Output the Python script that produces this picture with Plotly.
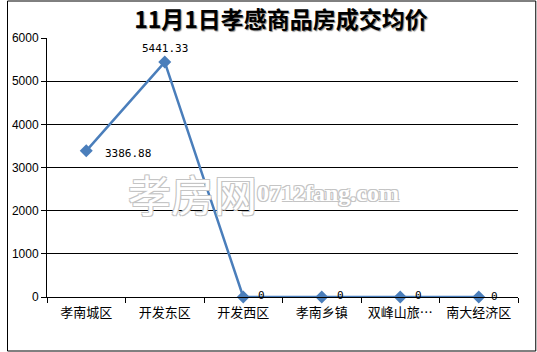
import plotly.graph_objects as go

categories = ["孝南城区", "开发东区", "开发西区", "孝南乡镇", "双峰山旅…", "南大经济区"]
prices = [3386.88, 5441.33, 0, 0, 0, 0]
price_labels = ["3386.88", "5441.33", "0", "0", "0", "0"]
y_ticks = [0, 1000, 2000, 3000, 4000, 5000, 6000]

LINE = "#4A7EBB"
W, H = 537, 352
L, R, T, B = 41, 19, 38, 55
pw, ph = W - L - R, H - T - B

fig = go.Figure()
fig.add_trace(go.Scatter(
    x=categories, y=prices, mode="lines+markers",
    line=dict(color=LINE, width=2.5),
    marker=dict(symbol="diamond", size=10, color=LINE),
    hoverinfo="skip", showlegend=False, cliponaxis=False,
))

# data labels
label_font = dict(family="DejaVu Sans Mono", size=11, color="#000")
shifts = [(18, -3), (0, 14), (14, 2), (14, 2), (14, 2), (11, 1)]
for c, v, t, (dx, dy) in zip(categories, prices, price_labels, shifts):
    fig.add_annotation(x=c, y=v, text=t, showarrow=False, font=label_font,
                       xanchor="left" if dx > 5 else "center", yanchor="middle",
                       xshift=dx if dx > 5 else 0, yshift=dy, borderpad=0)

# watermark
outline = "1px 1px 0 #c4c4c4, -1px -1px 0 #c4c4c4, 1px -1px 0 #c4c4c4, -1px 1px 0 #c4c4c4"
fig.add_annotation(xref="paper", yref="paper",
                   x=(121 - L) / pw, y=(297 - 193) / ph, xanchor="left", yanchor="middle",
                   text="孝房网", showarrow=False,
                   font=dict(family="Noto Sans CJK SC", size=43, color="white", shadow=outline))
fig.add_annotation(xref="paper", yref="paper",
                   x=(252 - L) / pw, y=(297 - 193) / ph, xanchor="left", yanchor="middle",
                   text="0712fang.com", showarrow=False,
                   font=dict(family="Liberation Serif", size=24, color="white", weight="bold",
                             shadow=outline))

# outer border
fig.add_shape(type="rect", xref="paper", yref="paper",
              x0=(1 - L) / pw, x1=(536 - L) / pw,
              y0=(297 - 351) / ph, y1=(297 - 1) / ph,
              line=dict(color="black", width=1), fillcolor="rgba(0,0,0,0)", layer="below")

fig.update_layout(
    width=W, height=H,
    margin=dict(l=L, r=R, t=T, b=B),
    paper_bgcolor="white", plot_bgcolor="white",
    title=dict(text="<b>11月1日孝感商品房成交均价</b>", x=281 / W, xanchor="center",
               y=1 - 20 / H, yanchor="middle", yref="container",
               font=dict(family="Noto Sans CJK SC", size=23, color="#000",
                         shadow="1px 1px 1px #888")),
    xaxis=dict(type="category", range=[-0.5, len(categories) - 0.5],
               showgrid=False, showline=True, linecolor="black", linewidth=1,
               ticks="outside", tickson="boundaries", ticklen=5, tickcolor="black",
               ticklabelstandoff=3,
               tickfont=dict(family="Noto Sans CJK SC", size=13, color="#000"),
               fixedrange=True, zeroline=False),
    yaxis=dict(range=[0, 6000], tickvals=y_ticks, ticktext=[str(v) for v in y_ticks],
               showgrid=True, gridcolor="black", gridwidth=1,
               showline=True, linecolor="black", linewidth=1,
               ticks="outside", ticklen=5, tickcolor="black",
               tickfont=dict(family="Liberation Sans", size=12, color="#000"),
               zeroline=False, fixedrange=True),
)

fig.write_html("out.html")
